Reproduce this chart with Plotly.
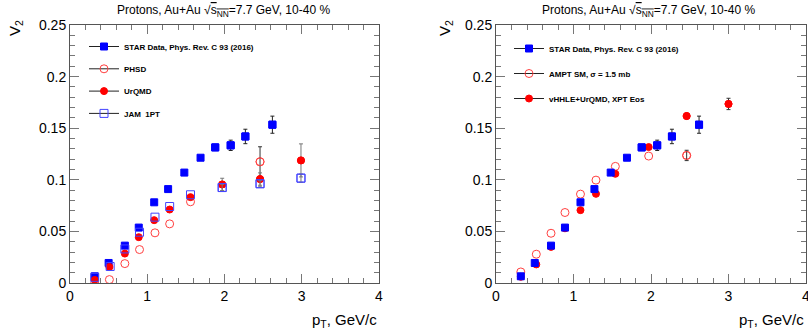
import plotly.graph_objects as go

# ---------------- data ----------------
star_pt = [0.32, 0.50, 0.71, 0.89, 1.09, 1.27, 1.48, 1.69, 1.88, 2.08, 2.27, 2.62]
star_v2 = [0.0065, 0.0194, 0.0362, 0.0537, 0.0782, 0.0910, 0.1070, 0.1214, 0.1314, 0.1334, 0.1420, 0.1534]
star_err = [0, 0, 0, 0, 0, 0, 0, 0, 0.0025, 0.0050, 0.0070, 0.0083]

phsd_pt = [0.32, 0.51, 0.71, 0.90, 1.10, 1.29, 1.56, 2.46]
phsd_v2 = [0.0000, 0.0033, 0.0188, 0.0324, 0.0486, 0.0573, 0.0787, 0.1175]
phsd_err = [0, 0, 0, 0, 0, 0, 0, 0.0145]

urqmd_pt = [0.32, 0.51, 0.71, 0.89, 1.09, 1.29, 1.56, 1.97, 2.46, 2.99]
urqmd_v2 = [0.0030, 0.0155, 0.0285, 0.0444, 0.0609, 0.0712, 0.0832, 0.0955, 0.1007, 0.1188]
urqmd_err = [0, 0, 0, 0, 0, 0, 0, 0.006, 0.006, 0.016]

jam_pt = [0.32, 0.52, 0.71, 0.90, 1.10, 1.29, 1.56, 1.97, 2.46, 2.99]
jam_v2 = [0.0055, 0.0160, 0.0330, 0.0492, 0.0638, 0.0741, 0.0855, 0.0925, 0.0962, 0.1016]
jam_err = [0, 0, 0, 0, 0, 0, 0, 0.003, 0.003, 0.004]

ampt_pt = [0.32, 0.52, 0.71, 0.89, 1.09, 1.29, 1.54, 1.97, 2.46]
ampt_v2 = [0.0107, 0.0279, 0.0482, 0.0683, 0.0861, 0.0997, 0.1130, 0.1230, 0.1236]
ampt_err = [0, 0, 0, 0, 0, 0, 0, 0, 0.005]

vhlle_pt = [0.32, 0.52, 0.71, 0.89, 1.09, 1.29, 1.54, 1.97, 2.46, 3.00]
vhlle_v2 = [0.0060, 0.0180, 0.0350, 0.0530, 0.0706, 0.0864, 0.1058, 0.1317, 0.1618, 0.1735]
vhlle_err = [0, 0, 0, 0, 0, 0, 0, 0, 0.0020, 0.0055]

x_ticks = [0, 1, 2, 3, 4]
y_ticks = [0, 0.05, 0.1, 0.15, 0.2, 0.25]
y_tick_text = ["0", "0.05", "0.1", "0.15", "0.2", "0.25"]

title_text = "Protons, Au+Au √<span style='text-decoration:overline'>s<sub>NN</sub></span>=7.7 GeV, 10-40 %"

W, H = 808, 336
def px(x):
    return x / W
def py(y):
    return 1 - y / H

FONT = "Liberation Sans, Arial, sans-serif"
BLUE = "#0000ff"
RED = "#ff0000"
OPENRED = "#ff4040"
OPENBLUE = "#4444ff"

fig = go.Figure()

def add_points(xs, ys, errs, xa, ya, symbol, color, size, ecolor, lw=1):
    marker = dict(symbol=symbol, color=color, size=size, line=dict(color=color, width=lw))
    fig.add_trace(go.Scatter(
        x=xs, y=ys, xaxis=xa, yaxis=ya, mode="markers", showlegend=False,
        marker=marker, hoverinfo="x+y"))
    idx = [i for i, e in enumerate(errs) if e > 0]
    if idx:
        fig.add_trace(go.Scatter(
            x=[xs[i] for i in idx], y=[ys[i] for i in idx], xaxis=xa, yaxis=ya,
            mode="markers", showlegend=False, marker=marker, hoverinfo="x+y",
            error_y=dict(type="data", array=[errs[i] for i in idx], visible=True,
                         color=ecolor, thickness=1, width=2)))

def add_legend(name, symbol, color, size, legend, group):
    fig.add_trace(go.Scatter(
        x=[None], y=[None], mode="lines+markers", name="<b>" + name + "</b>",
        legend=legend, legendgroup=group,
        line=dict(color="#222222", width=1),
        marker=dict(symbol=symbol, color=color, size=size, line=dict(color=color, width=1))))

# left panel
add_points(star_pt, star_v2, star_err, "x", "y", "square", BLUE, 7, "#222222")
add_points(phsd_pt, phsd_v2, phsd_err, "x", "y", "circle-open", OPENRED, 8, "#333333")
add_points(urqmd_pt, urqmd_v2, urqmd_err, "x", "y", "circle", RED, 7, "#777777")
add_points(jam_pt, jam_v2, jam_err, "x", "y", "square-open", OPENBLUE, 8, "#777777")

# right panel
add_points(ampt_pt, ampt_v2, ampt_err, "x2", "y2", "circle-open", OPENRED, 8, "#333333")
add_points(vhlle_pt, vhlle_v2, vhlle_err, "x2", "y2", "circle", RED, 7, "#333333")
add_points(star_pt, star_v2, star_err, "x2", "y2", "square", BLUE, 7, "#222222")

# legends
add_legend("STAR Data, Phys. Rev. C 93 (2016)", "square", BLUE, 7, "legend", "a")
add_legend("PHSD", "circle-open", OPENRED, 8, "legend", "b")
add_legend("UrQMD", "circle", RED, 7, "legend", "c")
add_legend("JAM  1PT", "square-open", OPENBLUE, 8, "legend", "d")

add_legend("STAR Data, Phys. Rev. C 93 (2016)", "square", BLUE, 7, "legend2", "e")
add_legend("AMPT SM, σ = 1.5 mb", "circle-open", OPENRED, 8, "legend2", "f")
add_legend("vHHLE+UrQMD, XPT Eos", "circle", RED, 7, "legend2", "g")

def xaxis(domain, anchor):
    return dict(domain=domain, anchor=anchor, range=[0, 4], tickvals=x_ticks,
                ticks="inside", ticklen=9, tickcolor="#777777", tickwidth=1,
                minor=dict(dtick=0.2, ticks="inside", ticklen=5, tickcolor="#777777", tickwidth=1),
                showline=True, linecolor="#555555", linewidth=1, mirror="ticks",
                showgrid=False, zeroline=False, automargin=False, ticklabeloverflow="allow",
                tickfont=dict(family=FONT, size=14, color="#000000"))

def yaxis(domain, anchor):
    return dict(domain=domain, anchor=anchor, range=[0, 0.25], tickvals=y_ticks, ticktext=y_tick_text,
                ticks="inside", ticklen=9, tickcolor="#777777", tickwidth=1,
                minor=dict(dtick=0.01, ticks="inside", ticklen=5, tickcolor="#777777", tickwidth=1),
                showline=True, linecolor="#555555", linewidth=1, mirror="ticks",
                showgrid=False, zeroline=False, automargin=False, ticklabeloverflow="allow",
                tickfont=dict(family=FONT, size=14, color="#000000"))

ydom = [py(283), py(25)]

annotations = []
for cx, rx, vx in [(223, 379, 15), (648, 806, 445)]:
    annotations.append(dict(text=title_text, x=px(cx), y=py(11), xref="paper", yref="paper",
                            xanchor="center", yanchor="middle", showarrow=False,
                            font=dict(family=FONT, size=12, color="#000000")))
    annotations.append(dict(text="p<sub>T</sub>, GeV/c", x=px(rx), y=py(320), xref="paper", yref="paper",
                            xanchor="right", yanchor="middle", showarrow=False,
                            font=dict(family=FONT, size=15, color="#000000")))
    annotations.append(dict(text="V<sub>2</sub>", x=px(vx), y=py(28), xref="paper", yref="paper",
                            xanchor="center", yanchor="middle", showarrow=False, textangle=-90,
                            font=dict(family=FONT, size=15, color="#000000")))

fig.update_layout(
    width=W, height=H,
    margin=dict(l=0, r=0, t=0, b=0, autoexpand=False),
    paper_bgcolor="white", plot_bgcolor="white",
    xaxis=xaxis([px(70), px(379)], "y"),
    yaxis=yaxis(ydom, "x"),
    xaxis2=xaxis([px(496), px(806)], "y2"),
    yaxis2=yaxis(ydom, "x2"),
    annotations=annotations,
    legend=dict(x=px(84), y=py(32), xanchor="left", yanchor="top", bgcolor="rgba(0,0,0,0)",
                font=dict(family=FONT, size=8, color="#000000"), tracegroupgap=3.3, itemwidth=30),
    legend2=dict(x=px(509), y=py(34), xanchor="left", yanchor="top", bgcolor="rgba(0,0,0,0)",
                 font=dict(family=FONT, size=8, color="#000000"), tracegroupgap=6, itemwidth=30),
    showlegend=True,
)

fig.write_html("out.html", config={"displayModeBar": False},
               post_script="document.body.style.margin='0';document.body.style.padding='0';"
                           "document.body.style.overflow='hidden';")
